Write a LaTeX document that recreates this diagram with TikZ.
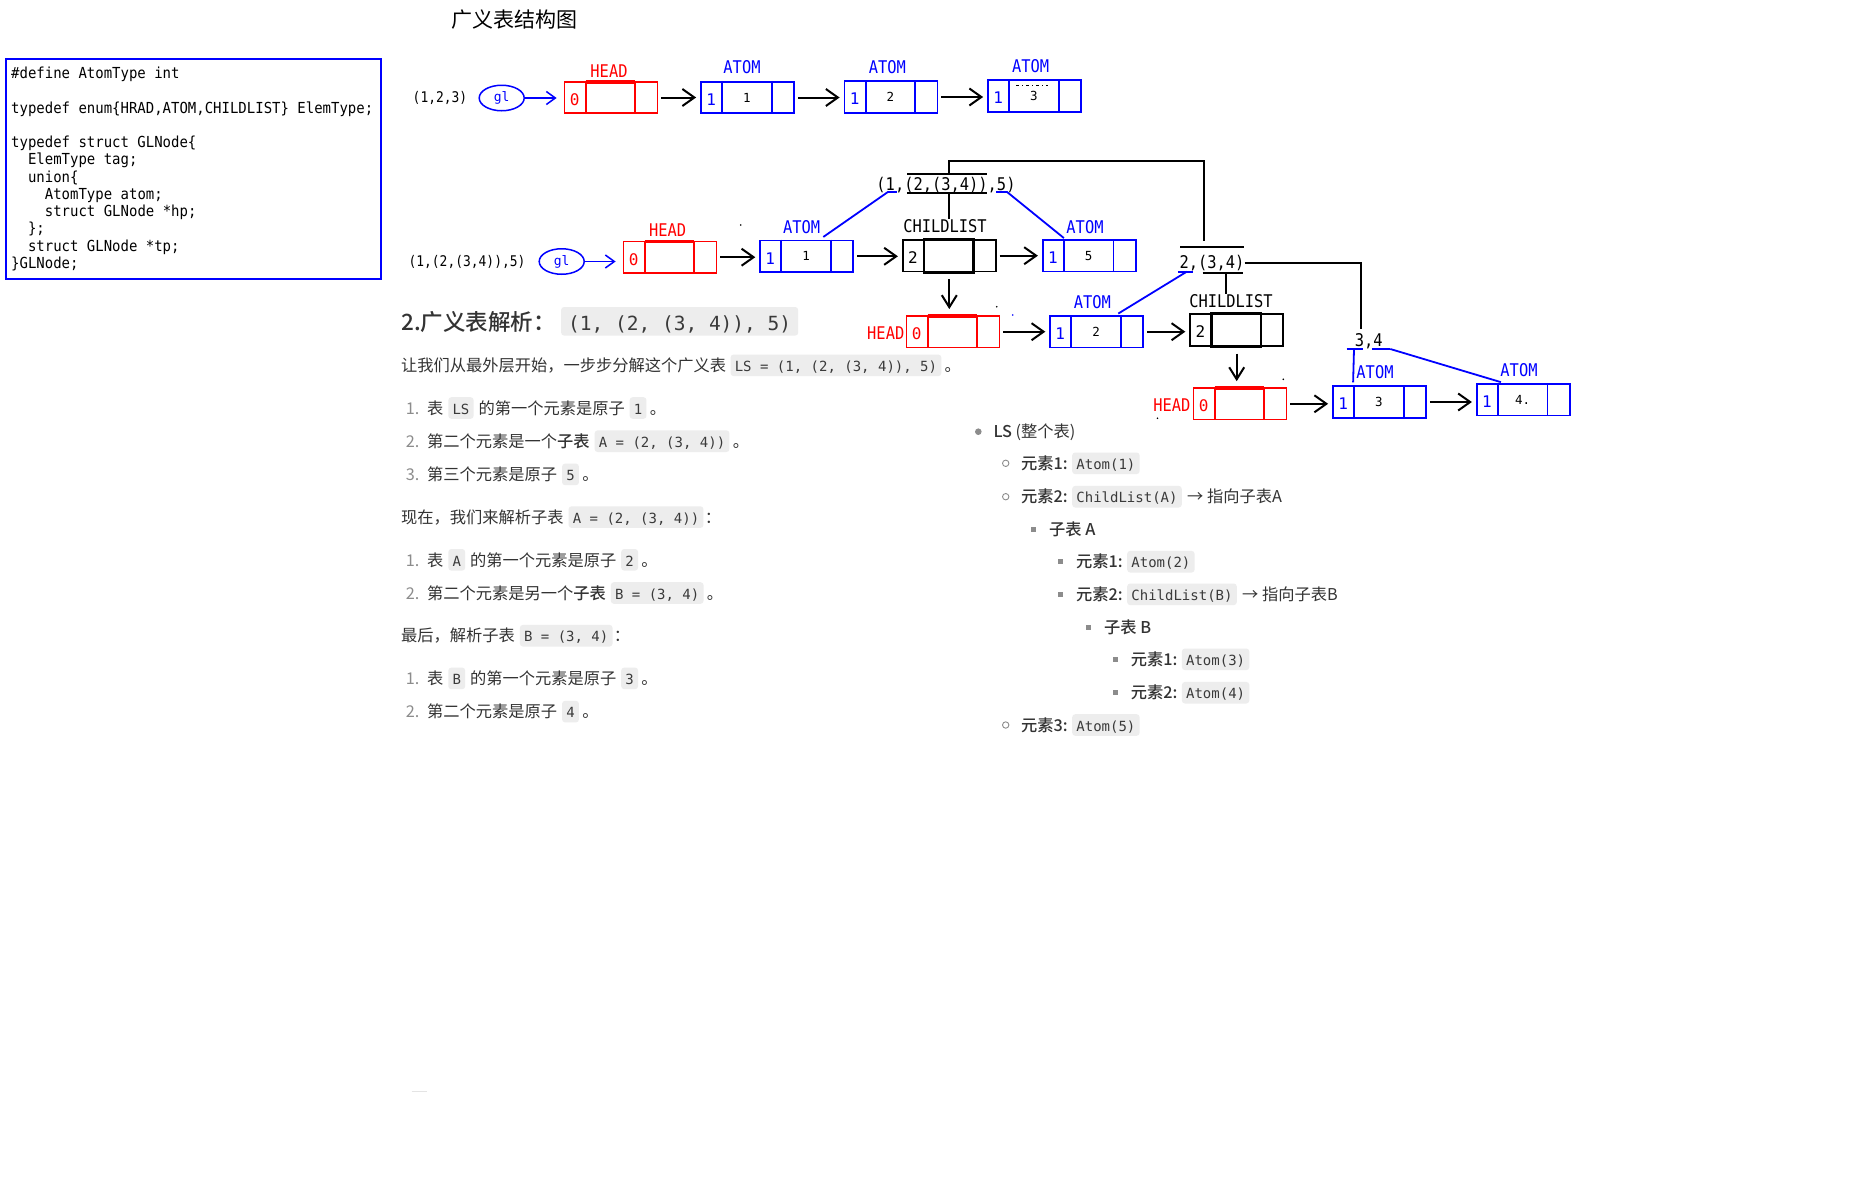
\documentclass[tikz,border=0pt]{standalone}
\usepackage{fontspec}
\usetikzlibrary{arrows.meta,shapes.geometric}
\newfontfamily\cjk{Noto Sans CJK SC}[BoldFont={Noto Sans CJK SC Medium}]
\newfontfamily\lblmono{DejaVu Sans Mono}[FakeStretch=0.88]
\newfontfamily\srcmono{DejaVu Sans Mono}[FakeStretch=0.92]
\newfontfamily\plainmono{DejaVu Sans Mono}
\newcommand\fsz[1]{\fontsize{#1}{#1}\selectfont}
\definecolor{ink}{HTML}{333333}
\definecolor{softgray}{HTML}{8C8C8C}
\definecolor{codebg}{HTML}{EDEDED}
\definecolor{codeink}{HTML}{3A3A3A}
\definecolor{faint}{HTML}{E4E4E4}

\tikzset{
  glbox/.style={draw, line width=1.8, minimum width=93, minimum height=31.5, inner sep=0},
  tagdigit/.style={font=\plainmono\fsz{16}, inner sep=0},
  valdigit/.style={font=\plainmono\fsz{12.5}, inner sep=0, text=black},
  kind/.style={font=\lblmono\fsz{17.5}, inner sep=0},
  listlbl/.style={font=\lblmono\fsz{17.5}, inner sep=0},
  srclbl/.style={font=\lblmono\fsz{14.7}, inner sep=0},
  srcline/.style={font=\srcmono\fsz{15.2}, inner sep=0, anchor=base west},
  glell/.style={draw=blue, ellipse, line width=1.5, minimum width=45, minimum height=25.5, inner sep=0, text=blue, font=\plainmono\fsz{13}},
  nextarrow/.style={line width=2, -{Straight Barb[length=12pt,width=17pt]}, shorten <=3pt, shorten >=4pt},
  downarrow/.style={line width=2, -{Straight Barb[length=12pt,width=15pt]}, shorten <=7pt, shorten >=6pt},
  glarrow/.style={blue, line width=1.5, -{Straight Barb[length=9pt,width=13pt]}, shorten >=7pt},
  bracket/.style={line width=1.8},
  pointer/.style={blue, line width=1.8},
  txt/.style={font=\cjk\fsz{16.25}, text=ink, inner sep=0, anchor=base west},
  num/.style={txt, text=softgray},
  hd/.style={font=\cjk\bfseries\fsz{22.5}, text=ink, inner sep=0, anchor=base west},
  code/.style={font=\plainmono\fsz{14}, text=codeink, fill=codebg, rounded corners=3,
    inner xsep=4.2, inner ysep=3.3, text height=13.7, text depth=1.3, anchor=base west},
  hcode/.style={code, font=\plainmono\fsz{19.5}, inner xsep=7, inner ysep=3.6, text height=19.4, text depth=2},
  dotb/.style={circle, fill=softgray, minimum size=6.6, inner sep=0},
  ringb/.style={circle, draw=softgray, line width=0.9, minimum size=6.4, inner sep=0},
  sqb/.style={rectangle, fill=softgray, minimum size=5.4, inner sep=0},
  speck/.style={circle, fill, minimum size=1.8, inner sep=0},
}

% one list node: name, x, y, colour, tag, value
\newcommand\cellrow[6]{%
  \node[glbox, draw=#4] (#1) at (#2,#3) {};
  \draw[#4, line width=1.8] ([xshift=22pt]#1.north west) -- ([xshift=22pt]#1.south west)
                            ([xshift=71.5pt]#1.north west) -- ([xshift=71.5pt]#1.south west);
  \node[tagdigit, text=#4] (#1-tag) at ([xshift=11pt, yshift=-2pt]#1.west) {#5};
  \node[valdigit] (#1-val) at ([xshift=46.75pt]#1.west) {#6};
}
% heavy top edge of a head node's middle cell
\newcommand\headtop[1]{%
  \draw[red, line width=3.4] ([xshift=22pt,yshift=-1pt]#1.north west) -- ([xshift=71.5pt,yshift=-1pt]#1.north west);
}
% heavy middle cell of a child-list node
\newcommand\childmid[1]{%
  \draw[line width=2.4] ([xshift=22pt]#1.north west) rectangle ([xshift=71.5pt]#1.south west);
}

\begin{document}
\begin{tikzpicture}[x=1pt, y=-1pt]
\fill[white] (0,0) rectangle (1860,1200);
\path[use as bounding box] (0,0) rectangle (1860,1200);

% ---------- title ----------
\node[font=\cjk\fsz{21}, text=black, inner sep=0] (title) at (514,20) {广义表结构图};

% ---------- C declaration ----------
\node[draw=blue, line width=2, minimum width=375, minimum height=219.5, anchor=north west, inner sep=0] (decl) at (4.7,58) {};
\node[srcline] (k1)  at (11,78.5)    {\#define AtomType int};
\node[srcline] (k2)  at (11,113)     {typedef enum\{HRAD,ATOM,CHILDLIST\} ElemType;};
\node[srcline] (k3)  at (11,147.5)   {typedef struct GLNode\{};
\node[srcline] (k4)  at (27.8,164.75){ElemType tag;};
\node[srcline] (k5)  at (27.8,182)   {union\{};
\node[srcline] (k6)  at (44.7,199.25){AtomType atom;};
\node[srcline] (k7)  at (44.7,216.5) {struct GLNode *hp;};
\node[srcline] (k8)  at (27.8,233.75){\};};
\node[srcline] (k9)  at (27.8,251)   {struct GLNode *tp;};
\node[srcline] (k10) at (11,268.25)  {\}GLNode;};

% ---------- list (1,2,3) ----------
\node[srclbl] (s1) at (440,98) {(1,2,3)};
\node[glell] (gl1) at (501.7,98) {gl};
\cellrow{h1}{611}{97.5}{red}{0}{}
\headtop{h1}
\cellrow{a11}{747.5}{97.5}{blue}{1}{1}
\cellrow{a12}{891}{97}{blue}{1}{2}
\cellrow{a13}{1034.5}{96}{blue}{1}{3}
\draw[black, line width=0.8, dash pattern=on 3pt off 3pt on 1pt off 3pt] (1016,85) -- (1048,85);
\node[kind, text=red]  (h1-k)  at (609,71)    {HEAD};
\node[kind, text=blue] (a11-k) at (742,67.3)  {ATOM};
\node[kind, text=blue] (a12-k) at (887.3,66.7){ATOM};
\node[kind, text=blue] (a13-k) at (1030.7,66) {ATOM};
\draw[glarrow] (gl1.east) -- (gl1.east -| h1.west);
\draw[nextarrow] (h1.east) -- (h1.east -| a11.west);
\draw[nextarrow] (a11.east) -- (a11.east -| a12.west);
\draw[nextarrow] (a12.east) -- (a12.east -| a13.west);

% ---------- list (1,(2,(3,4)),5) ----------
\node[srclbl] (s2) at (467,262) {(1,(2,(3,4)),5)};
\node[glell] (gl2) at (561.7,261.5) {gl};
\cellrow{h2}{670}{257.2}{red}{0}{}
\headtop{h2}
\cellrow{a21}{806.7}{256.3}{blue}{1}{1}
\cellrow{c21}{949.3}{255.7}{black}{2}{}
\childmid{c21}
\cellrow{a25}{1089.3}{255.7}{blue}{1}{5}
\node[kind, text=red]  (h2-k)  at (667.7,230)  {HEAD};
\node[kind, text=blue] (a21-k) at (801.7,226.7){ATOM};
\node[kind]            (c21-k) at (945,226)    {CHILDLIST};
\node[kind, text=blue] (a25-k) at (1085,226.7) {ATOM};
\draw[glarrow] (gl2.east) -- (gl2.east -| h2.west);
\draw[nextarrow] (h2.east) -- (h2.east -| a21.west);
\draw[nextarrow] (a21.east) -- (a21.east -| c21.west);
\draw[nextarrow] (c21.east) -- (c21.east -| a25.west);

% sub-list A = (2,(3,4))
\cellrow{h3}{953}{331.7}{red}{0}{}
\headtop{h3}
\cellrow{a32}{1096.7}{331.7}{blue}{1}{2}
\cellrow{c32}{1236.7}{330}{black}{2}{}
\childmid{c32}
\node[kind, text=red, anchor=east] (h3-k) at (904.5,333) {HEAD};
\node[kind, text=blue] (a32-k) at (1092.3,302.3){ATOM};
\node[kind]            (c32-k) at (1231,300.7)  {CHILDLIST};
\draw[downarrow] (c21.south) -- (c21.south |- h3.north);
\draw[nextarrow] (h3.east) -- (h3.east -| a32.west);
\draw[nextarrow] (a32.east) -- (a32.east -| c32.west);

% sub-list B = (3,4)
\cellrow{h4}{1240}{403.8}{red}{0}{}
\headtop{h4}
\cellrow{a43}{1379.5}{402}{blue}{1}{3}
\cellrow{a44}{1523.3}{399.8}{blue}{1}{4.}
\node[kind, text=red, anchor=east] (h4-k) at (1190.6,405) {HEAD};
\node[kind, text=blue] (a43-k) at (1375,371.7) {ATOM};
\node[kind, text=blue] (a44-k) at (1519,370)   {ATOM};
\draw[downarrow] (c32.south) -- (c32.south |- h4.north);
\draw[nextarrow] (h4.east) -- (h4.east -| a43.west);
\draw[nextarrow] (a43.east) -- (a43.east -| a44.west);

% ---------- structure labels with their brackets ----------
\node[listlbl] (la) at (946,185)    {(1,(2,(3,4)),5)};
\node[listlbl] (lb) at (1212,263.3) {2,(3,4)};
\node[listlbl] (lc) at (1368.7,341) {3,4};

\coordinate (laTop) at (949.3,174.3);
\coordinate (laBot) at (949.3,193.3);
\coordinate (lbTop) at (1204,241);
\coordinate (lbBot) at (1225.7,272.7);
\coordinate (lbRight) at (1361,329);
\draw[bracket] (907,174.3) -- (987,174.3);
\draw[bracket] (907,193.3) -- (987,193.3);
\draw[bracket] (laTop) -- ++(0,-13) -| (lbTop);
\draw[bracket] (laBot) -- (laBot |- c21-k.north);
\draw[bracket] (1180,246.7) -- (1244,246.7);
\draw[bracket] (1202.7,272.7) -- (1243.3,272.7);
\draw[bracket] (lbBot) -- (lbBot |- c32-k.north);
\draw[bracket] (lb.east) -| (lbRight);

% element pointers
\coordinate (u1) at (888.3,191.7);
\coordinate (u5) at (1006.7,191.7);
\coordinate (u2) at (1186.7,271.7);
\coordinate (u3) at (1354,349.3);
\coordinate (u4) at (1390.3,349);
\draw[pointer] (u1) -- ++(8.4,0);
\draw[pointer] (u1) -- ([xshift=16.6pt,yshift=2.7pt]a21.north);
\draw[pointer] (u5) -- ++(-11,0);
\draw[pointer] (u5) -- ([xshift=22pt,yshift=1pt]a25.north west);
\draw[pointer] (1178.3,271.7) -- (1193.3,271.7);
\draw[pointer] (u2) -- ([xshift=69pt,yshift=1.5pt]a32.north west);
\draw[pointer] (1346.7,349.3) -- (1362.7,349.3);
\draw[pointer] (u3) -- ([xshift=21pt,yshift=3pt]a43.north west);
\draw[pointer] (1372,349) -- (u4);
\draw[pointer] (u4) -- ([xshift=25pt,yshift=1pt]a44.north west);

% stray specks
\node[speck, black] (sp1) at (740.7,225) {};
\node[speck, black] (sp2) at (996.7,306.7) {};
\node[speck, blue]  (sp3) at (1012.7,315) {};
\node[speck, black] (sp4) at (1283.3,379.3) {};
\node[speck, black] (sp5) at (1157.5,418.3) {};
\draw[faint, line width=1.2] (411.7,1091.3) -- (426.7,1091.3);

% ---------- walkthrough text ----------
\node[hd] (hd) at (401,330) {2.广义表解析：};
\node[hcode] (hdc) at ([xshift=5pt]hd.base east) {(1, (2, (3, 4)), 5)};

\node[txt] (p0) at (401,371.5) {让我们从最外层开始，一步步分解这个广义表};
\node[code] (p0c) at ([xshift=4pt]p0.base east) {LS = (1, (2, (3, 4)), 5)};
\node[txt] (p0e) at ([xshift=3pt]p0c.base east) {。};

\node[num] (i1n) at (405.6,414.2) {1.};
\node[txt] (i1a) at (427,414.2) {表};
\node[code] (i1b) at ([xshift=4.5pt]i1a.base east) {LS};
\node[txt] (i1c) at ([xshift=4.5pt]i1b.base east) {的第一个元素是原子};
\node[code] (i1d) at ([xshift=4.5pt]i1c.base east) {1};
\node[txt] (i1e) at ([xshift=3pt]i1d.base east) {。};

\node[num] (i2n) at (405.6,447.4) {2.};
\node[txt] (i2a) at (427,447.4) {第二个元素是一个\textbf{子表}};
\node[code] (i2b) at ([xshift=4.5pt]i2a.base east) {A = (2, (3, 4))};
\node[txt] (i2e) at ([xshift=3pt]i2b.base east) {。};

\node[num] (i3n) at (405.6,480.6) {3.};
\node[txt] (i3a) at (427,480.6) {第三个元素是原子};
\node[code] (i3b) at ([xshift=4.5pt]i3a.base east) {5};
\node[txt] (i3e) at ([xshift=3pt]i3b.base east) {。};

\node[txt] (q0) at (401,523.3) {现在，我们来解析子表};
\node[code] (q0c) at ([xshift=4.5pt]q0.base east) {A = (2, (3, 4))};
\node[txt] (q0e) at ([xshift=1pt]q0c.base east) {：};

\node[num] (j1n) at (405.6,566) {1.};
\node[txt] (j1a) at (427,566) {表};
\node[code] (j1b) at ([xshift=4.5pt]j1a.base east) {A};
\node[txt] (j1c) at ([xshift=4.5pt]j1b.base east) {的第一个元素是原子};
\node[code] (j1d) at ([xshift=4.5pt]j1c.base east) {2};
\node[txt] (j1e) at ([xshift=3pt]j1d.base east) {。};

\node[num] (j2n) at (405.6,599.2) {2.};
\node[txt] (j2a) at (427,599.2) {第二个元素是另一个\textbf{子表}};
\node[code] (j2b) at ([xshift=4.5pt]j2a.base east) {B = (3, 4)};
\node[txt] (j2e) at ([xshift=3pt]j2b.base east) {。};

\node[txt] (r0) at (401,641.9) {最后，解析子表};
\node[code] (r0c) at ([xshift=4.5pt]r0.base east) {B = (3, 4)};
\node[txt] (r0e) at ([xshift=1pt]r0c.base east) {：};

\node[num] (k1n) at (405.6,684.6) {1.};
\node[txt] (k1a) at (427,684.6) {表};
\node[code] (k1b) at ([xshift=4.5pt]k1a.base east) {B};
\node[txt] (k1c) at ([xshift=4.5pt]k1b.base east) {的第一个元素是原子};
\node[code] (k1d) at ([xshift=4.5pt]k1c.base east) {3};
\node[txt] (k1e) at ([xshift=3pt]k1d.base east) {。};

\node[num] (k2n) at (405.6,717.8) {2.};
\node[txt] (k2a) at (427,717.8) {第二个元素是原子};
\node[code] (k2b) at ([xshift=4.5pt]k2a.base east) {4};
\node[txt] (k2e) at ([xshift=3pt]k2b.base east) {。};

% ---------- outline of the list ----------
\node[dotb] (o1b) at (978.3,431.7) {};
\node[txt] (o1) at (993.3,437.9) {\textbf{LS} (整个表)};

\node[ringb] (o2b) at (1005.7,463.3) {};
\node[txt] (o2) at (1021,469.5) {\textbf{元素1:}};
\node[code] (o2c) at ([xshift=4pt]o2.base east) {Atom(1)};

\node[ringb] (o3b) at (1005.7,496.7) {};
\node[txt] (o3) at (1021,502.9) {\textbf{元素2:}};
\node[code] (o3c) at ([xshift=4pt]o3.base east) {ChildList(A)};
\node[txt] (o3e) at ([xshift=5pt]o3c.base east) {→ 指向子表A};

\node[sqb] (o4b) at (1033.3,529.3) {};
\node[txt] (o4) at (1049,535.5) {\textbf{子表 A}};

\node[sqb] (o5b) at (1060.7,561.7) {};
\node[txt] (o5) at (1076,567.9) {\textbf{元素1:}};
\node[code] (o5c) at ([xshift=4pt]o5.base east) {Atom(2)};

\node[sqb] (o6b) at (1060.7,594.3) {};
\node[txt] (o6) at (1076,600.5) {\textbf{元素2:}};
\node[code] (o6c) at ([xshift=4pt]o6.base east) {ChildList(B)};
\node[txt] (o6e) at ([xshift=5pt]o6c.base east) {→ 指向子表B};

\node[sqb] (o7b) at (1088.3,627.7) {};
\node[txt] (o7) at (1104,633.9) {\textbf{子表 B}};

\node[sqb] (o8b) at (1115.3,659.3) {};
\node[txt] (o8) at (1130.7,665.5) {\textbf{元素1:}};
\node[code] (o8c) at ([xshift=4pt]o8.base east) {Atom(3)};

\node[sqb] (o9b) at (1115.3,692.7) {};
\node[txt] (o9) at (1130.7,698.9) {\textbf{元素2:}};
\node[code] (o9c) at ([xshift=4pt]o9.base east) {Atom(4)};

\node[ringb] (o10b) at (1005.7,725) {};
\node[txt] (o10) at (1021,731.2) {\textbf{元素3:}};
\node[code] (o10c) at ([xshift=4pt]o10.base east) {Atom(5)};

\end{tikzpicture}
\end{document}
